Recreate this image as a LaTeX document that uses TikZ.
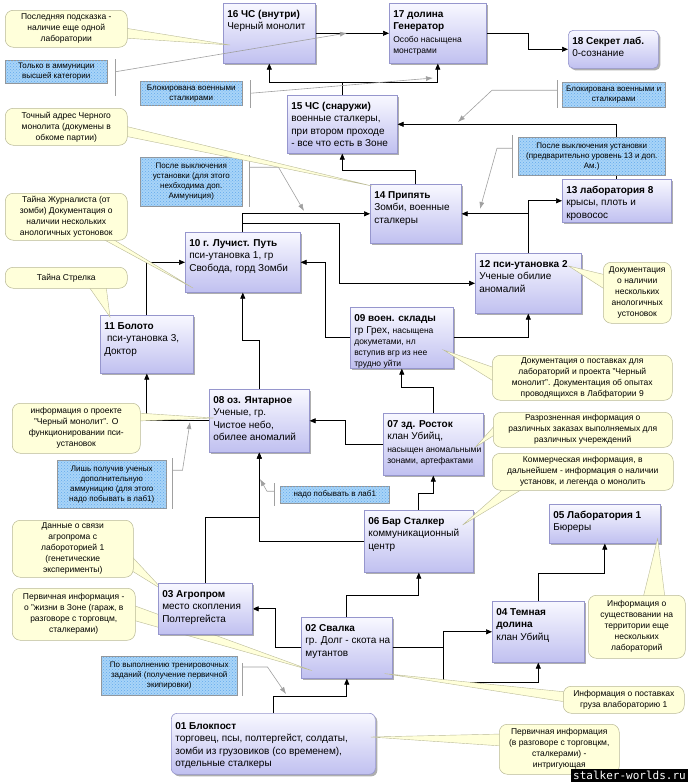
\documentclass[tikz,border=0pt]{standalone}
\usepackage{fontspec}
\setmainfont{Liberation Sans}
\newfontfamily\wmfont{DejaVu Sans Mono}
\usetikzlibrary{arrows.meta,shadows,patterns}

\definecolor{boxtop}{RGB}{248,248,255}
\definecolor{boxbot}{RGB}{192,192,240}
\definecolor{boxline}{RGB}{150,150,205}
\definecolor{callfill}{RGB}{255,255,218}
\definecolor{callline}{RGB}{185,185,150}
\definecolor{notefill}{RGB}{168,212,248}
\definecolor{notedot}{RGB}{100,170,235}
\definecolor{noteline}{RGB}{150,150,150}
\definecolor{hintgray}{RGB}{160,160,160}

\newcommand{\bodyf}{\fontsize{10}{12.5}\selectfont}
\newcommand{\smallf}{\fontsize{8.5}{10.5}\selectfont}
\newcommand{\callf}{\fontsize{8.5}{11}\selectfont}
\newcommand{\notef}{\fontsize{8}{10}\selectfont}
\newcommand{\bx}[3]{\parbox[t][#2pt][t]{#1pt}{\bodyf\begin{tabular}[t]{@{}l@{}}#3\end{tabular}}}
\newcommand{\ttl}[1]{\textbf{#1}}

\pgfdeclarelayer{mid}
\pgfdeclarelayer{front}
\pgfsetlayers{main,mid,front}

\tikzset{
  stage/.style={draw=boxline, line width=0.6pt, top color=boxtop, bottom color=boxbot,
    anchor=north west, inner xsep=4pt, inner ysep=5pt,
    drop shadow={shadow xshift=2pt, shadow yshift=-2pt, fill=black!45, opacity=0.7}},
  link/.style={line width=0.7pt, -{Triangle[length=6pt,width=5pt]}},
  yellownote/.style={draw=callline, fill=callfill, line width=0.5pt, rounded corners=8pt,
    anchor=north west, align=center, inner sep=0pt, font=\callf},
  wedge/.style={draw=callline, fill=callfill, line width=0.4pt},
  bluenote/.style={draw=noteline, fill=notefill, line width=0.5pt, anchor=north west,
    align=center, inner sep=0pt, font=\notef,
    postaction={pattern=crosshatch dots, pattern color=notedot}},
  bracketline/.style={draw=hintgray, line width=0.6pt},
  hintline/.style={draw=hintgray, line width=0.6pt, -{Latex[length=7pt,width=5pt]}},
}

\begin{document}
\begin{tikzpicture}[x=1pt,y=-1pt]
\useasboundingbox (0,0) rectangle (688,782);

% locations
\node[stage] (n16) at (223,3) {\bx{84}{50}{\ttl{16 ЧС (внутри)}\\Черный монолит}};
\node[stage] (n17) at (389,3) {\bx{89}{50}{\ttl{17 долина}\\\ttl{Генератор}\\{\smallf Особо насыщена}\\[-1.5pt]{\smallf монстрами}}};
\node[stage, rounded corners=5pt] (n18) at (568,30) {\bx{82}{28}{\ttl{18 Секрет лаб.}\\0-сознание}};
\node[stage] (n15) at (287,95) {\bx{102}{48}{\ttl{15 ЧС (снаружи)}\\военные сталкеры,\\при втором проходе\\- все что есть в Зоне}};
\node[stage] (n14) at (370,184) {\bx{83}{49}{\ttl{14 Припять}\\Зомби, военные\\сталкеры}};
\node[stage] (n13) at (562,179) {\bx{101}{33}{\ttl{13 лаборатория 8}\\крысы, плоть и\\кровосос}};
\node[stage] (n12) at (475,253) {\bx{98}{50}{\ttl{12 пси-утановка 2}\\Ученые обилие\\аномалий}};
\node[stage] (n10) at (185,232) {\bx{107}{50}{\ttl{10 г. Лучист. Путь}\\пси-утановка 1, гр\\Свобода, горд Зомби}};
\node[stage] (n11) at (100,315) {\bx{85}{48}{\ttl{11 Болото}\\\ пси-утановка 3,\\Доктор}};
\node[stage] (n09) at (350,307) {\bx{95}{51}{\ttl{09 воен. склады}\\гр Грех, {\smallf насыщена}\\[-1.5pt]{\smallf докуметами, нл}\\[-1.5pt]{\smallf вступив вгр из нее}\\[-2pt]{\smallf трудно уйти}}};
\node[stage] (n08) at (209,389) {\bx{92}{53}{\ttl{08 оз. Янтарное}\\Ученые, гр.\\Чистое небо,\\обилее аномалий}};
\node[stage] (n07) at (383,413) {\bx{92}{52}{\ttl{07 зд. Росток}\\клан Убийц,\\{\smallf насыщен аномальными}\\[-1.5pt]{\smallf зонами, артефактами}}};
\node[stage] (n06) at (364,510) {\bx{101}{52}{\ttl{06 Бар Сталкер}\\коммуникационный\\центр}};
\node[stage] (n05) at (549,504) {\bx{103}{29}{\ttl{05 Лаборатория 1}\\Бюреры}};
\node[stage] (n04) at (492,601) {\bx{84}{51}{\ttl{04 Темная}\\\ttl{долина}\\клан Убийц}};
\begin{pgfonlayer}{mid}
\node[stage] (n03) at (158,583) {\bx{86}{41}{\ttl{03 Агропром}\\место скопления\\Полтергейста}};
\end{pgfonlayer}
\node[stage] (n02) at (301,617) {\bx{83}{51}{\ttl{02 Свалка}\\гр. Долг - скота на\\мутантов}};
\node[stage, rounded corners=6pt, inner ysep=7pt] (n01) at (171,713) {\bx{196}{47}{\ttl{01 Блокпост}\\торговец, псы, полтергейст, солдаты,\\зомби из грузовиков (со временем),\\отдельные сталкеры}};

% routes
\draw[link] (n16.east) -- (n17.west);
\draw[link] (n17.east) -- ++(42,0) |- (n18.west);
\draw[link] (n15.north) -- ++(0,-13) -| (n16.south);
\draw[link] (n15.north) -- ++(0,-13) -| (n17.south);
\draw[link] (n14.north) -- ++(0,-14) -| (n15.south);
\draw[link] (n13.north) |- (n15.east);
\draw[link] (n12.north) |- (n13.west);
\draw[link] (n12.north) |- (n14.east);
\draw[link] (n10.north) |- (n14.west);
\draw[link] (n10.north) -- ++(0,-9) -- ++(97,0) |- (n12.west);
\draw[link] (n09.west) -- ++(-25,0) |- (n10.east);
\draw[link] (n09.east) -| (n12.south);
\draw[link] (n11.north) |- (n10.west);
\draw[link] (n08.north) -- ++(0,-49) -| (n10.south);
\draw[link] (n08.west) -| (n11.south);
\draw[link] (n07.west) -- ++(-38,0) |- (n08.east);
\draw[link] (n07.north) -- ++(0,-26) -| (n09.south);
\draw[link] (n06.north) -- ++(0,-17) -| (n07.south);
\draw[link] (n06.west) -| (n08.south);
\draw[link] (n03.north) -- ++(0,-66) -| (n08.south);
\draw[link] (n02.north) -- ++(0,-22) -| (n06.south);
\draw[link] (n02.west) -- ++(-26,0) |- (n03.east);
\draw[link] (n02.east) -- ++(51,0) |- (n04.west);
\draw[link] (n02.east) -- ++(51,0) -- ++(0,35) -| (n04.south);
\draw[link] (n04.north) -- ++(0,-28) -| (n05.south);
\draw[link] (n01.north) -- ++(0,-17) -| (n02.south);

% conditions
\node[bluenote, minimum width=102pt, minimum height=23pt] (a01) at (5,60) {Только в аммуниции\\высшей категории};
\node[bluenote, minimum width=102pt, minimum height=24pt] (a02) at (140,81) {Блокирована военными\\сталкирами};
\node[bluenote, minimum width=103pt, minimum height=25pt] (a03) at (562,82) {Блокирована военными и\\сталкирами};
\node[bluenote, minimum width=147pt, minimum height=38pt] (a04) at (518,137) {После выключения установки\\(предварительно уровень 13 и доп.\\Ам.)};
\node[bluenote, minimum width=102pt, minimum height=49pt] (a05) at (140,157) {После выключения\\установки (для этого\\нехбходима доп.\\Аммуниция)};
\node[bluenote, minimum width=109pt, minimum height=48pt] (a06) at (57,460) {Лишь получив ученых\\дополнительную\\аммуницию (для этого\\надо побывать в лаб1)};
\node[bluenote, minimum width=109pt, minimum height=17pt] (a07) at (280,486) {надо побывать в лаб1};
\node[bluenote, minimum width=136pt, minimum height=39pt] (a08) at (101,656) {По выполнению тренировочных\\заданий (получение первичной\\экипировки)};

\coordinate (w01) at (347,33);
\coordinate (w02) at (433,78);
\coordinate (w03) at (458,122);
\coordinate (w04) at (480,209);
\coordinate (w05) at (304,211);
\coordinate (w06) at (190,422);
\coordinate (w07) at (260,479);
\coordinate (w08) at (286,694);

\draw[bracketline] ([xshift=8pt,yshift=1pt]a01.north east) -- ([xshift=8pt,yshift=-12pt]a01.south east);
\draw[hintline] ([xshift=8pt]a01.east) -- (w01);
\draw[bracketline] ([xshift=8pt,yshift=1pt]a02.north east) -- ([xshift=8pt,yshift=-2pt]a02.south east);
\draw[hintline] ([xshift=8pt]a02.east) -- (w02);
\draw[bracketline] ([xshift=-5pt,yshift=2pt]a03.north west) -- ([xshift=-5pt]a03.south west);
\draw[hintline] ([xshift=-5pt,yshift=4.5pt]a03.west) -- ++(-65,0) -- (w03);
\draw[bracketline] ([xshift=-6pt,yshift=2pt]a04.north west) -- ([xshift=-6pt,yshift=-2pt]a04.south west);
\draw[hintline] ([xshift=-6pt,yshift=8pt]a04.west) -- ++(-15,0) -- (w04);
\draw[bracketline] ([xshift=7pt,yshift=2pt]a05.north east) -- ([xshift=7pt]a05.south east);
\draw[hintline] ([xshift=7pt,yshift=14.5pt]a05.east) -- ++(29,0) -- (w05);
\draw[bracketline] ([xshift=6pt,yshift=2pt]a06.north east) -- ([xshift=6pt]a06.south east);
\draw[hintline] ([xshift=6pt,yshift=14pt]a06.east) -- ++(10,0) -- (w06);
\draw[bracketline] ([xshift=-6pt,yshift=3pt]a07.north west) -- ([xshift=-6pt,yshift=-2pt]a07.south west);
\draw[hintline] ([xshift=-6pt,yshift=3.5pt]a07.west) -- ++(-7,0) -- (w07);
\draw[bracketline] ([xshift=5pt,yshift=-7pt]a08.north east) -- ([xshift=5pt]a08.south east);
\draw[hintline] ([xshift=5pt,yshift=-11pt]a08.north east) -- ++(25,0) -- (w08);

% information
\begin{pgfonlayer}{front}
\node[yellownote, minimum width=122pt, minimum height=37pt] (c01) at (5,10) {Последняя подсказка -\\наличие еще одной\\лаборатории};
\node[yellownote, minimum width=122pt, minimum height=37pt] (c02) at (5,108) {Точный адрес Черного\\монолита (докумены в\\обкоме партии)};
\node[yellownote, minimum width=122pt, minimum height=47pt] (c03) at (5,193) {Тайна Журналиста (от\\зомби) Документация о\\наличии нескольких\\анологичных устоновок};
\node[yellownote, minimum width=122pt, minimum height=21pt] (c04) at (5,267) {Тайна Стрелка};
\node[yellownote, minimum width=68pt, minimum height=61pt] (c05) at (603,262) {Документация\\о наличии\\нескольких\\анологичных\\устоновок};
\node[yellownote, minimum width=180pt, minimum height=45pt] (c06) at (492,355) {Документация о поставках для\\лабораторий и проекта "Черный\\монолит". Документация об опытах\\проводящихся в Лабфатории 9};
\node[yellownote, minimum width=128pt, minimum height=50pt] (c07) at (12,403) {информация о проекте\\"Черный монолит". О\\функционировании пси-\\установок};
\node[yellownote, minimum width=179pt, minimum height=35pt] (c08) at (493,412) {Разрозненная информация о\\различных заказах выполняемых для\\различных учереждений};
\node[yellownote, minimum width=181pt, minimum height=37pt] (c09) at (492,453) {Коммерческая информация, в\\дальнейшем - информация о наличии\\установк, и легенда о монолить};
\node[yellownote, minimum width=121pt, minimum height=57pt] (c10) at (12,520) {Данные о связи\\агропрома с\\лабороторией 1\\(генетические\\эксперименты)};
\node[yellownote, minimum width=123pt, minimum height=52pt] (c11) at (12,588) {Первичная информация -\\о "жизни в Зоне (гараж, в\\разговоре с торговцм,\\сталкерами)};
\node[yellownote, minimum width=97pt, minimum height=63pt] (c12) at (588,595) {Информация о\\существовании на\\территории еще\\нескольких\\лабораторий};
\node[yellownote, minimum width=121pt, minimum height=27pt] (c13) at (563,686) {Информация о поставках\\груза влабораторию 1};
\node[yellownote, minimum width=120pt, minimum height=50pt] (c14) at (499,724) {Первичная информация\\(в разговоре с торговцкм,\\сталкерами) -\\интригующая};
\node[fill=black, text=white, font=\wmfont\fontsize{11}{13}\selectfont, inner xsep=2pt, inner ysep=2pt, anchor=south east] (wm) at (688,782) {stalker-worlds.ru};
\end{pgfonlayer}

\draw[wedge] ([xshift=-3pt,yshift=-18pt]c01.north east) -- ([xshift=7pt,yshift=-42pt]n16.north west) -- ([xshift=-3pt,yshift=-28pt]c01.north east) -- cycle;
\draw[wedge] ([xshift=-3pt,yshift=-18pt]c02.north east) -- ([xshift=2pt,yshift=-2pt]n14.north west) -- ([xshift=-3pt,yshift=-28pt]c02.north east) -- cycle;
\draw[wedge] ([xshift=95pt,yshift=3pt]c03.south west) -- ([xshift=8pt,yshift=-56pt]n10.north west) -- ([xshift=105pt,yshift=3pt]c03.south west) -- cycle;
\draw[wedge] ([xshift=83pt,yshift=3pt]c04.south west) -- ([xshift=10pt,yshift=-2pt]n11.north west) -- ([xshift=101pt,yshift=3pt]c04.south west) -- cycle;
\draw[wedge] ([xshift=3pt,yshift=-13pt]c05.north west) -- ([xshift=-13pt,yshift=-13pt]n12.north east) -- ([xshift=3pt,yshift=-28pt]c05.north west) -- cycle;
\draw[wedge] ([xshift=3pt,yshift=-13pt]c06.north west) -- ([xshift=-10pt,yshift=-43pt]n09.north east) -- ([xshift=3pt,yshift=-27pt]c06.north west) -- cycle;
\draw[wedge] ([xshift=-3pt,yshift=-10pt]c07.north east) -- ([xshift=5pt,yshift=-29pt]n08.north west) -- ([xshift=-3pt,yshift=-18pt]c07.north east) -- cycle;
\draw[wedge] ([xshift=3pt,yshift=-12pt]c08.north west) -- ([xshift=-8pt,yshift=-34pt]n07.north east) -- ([xshift=3pt,yshift=-22pt]c08.north west) -- cycle;
\draw[wedge] ([xshift=13pt,yshift=3pt]c09.south west) -- ([xshift=-11pt,yshift=-15pt]n06.north east) -- ([xshift=33pt,yshift=3pt]c09.south west) -- cycle;
\draw[wedge] ([xshift=-3pt,yshift=-35pt]c10.north east) -- ([xshift=5pt,yshift=-7pt]n03.north west) -- ([xshift=-3pt,yshift=-50pt]c10.north east) -- cycle;
\draw[wedge] ([xshift=-3pt,yshift=-17pt]c11.north east) -- ([xshift=11pt,yshift=8pt]n02.south west) -- ([xshift=-3pt,yshift=-32pt]c11.north east) -- cycle;
\draw[wedge] ([xshift=55pt,yshift=-3pt]c12.north west) -- ([xshift=-3pt,yshift=5pt]n05.south east) -- ([xshift=77pt,yshift=-3pt]c12.north west) -- cycle;
\draw[wedge] ([xshift=3pt,yshift=-6pt]c13.north west) -- ([xshift=-8pt,yshift=5pt]n02.south east) -- ([xshift=3pt,yshift=-16pt]c13.north west) -- cycle;
\draw[wedge] ([xshift=3pt,yshift=-10pt]c14.north west) -- ([xshift=-5pt,yshift=-24pt]n01.north east) -- ([xshift=3pt,yshift=-22pt]c14.north west) -- cycle;
\end{tikzpicture}
\end{document}
